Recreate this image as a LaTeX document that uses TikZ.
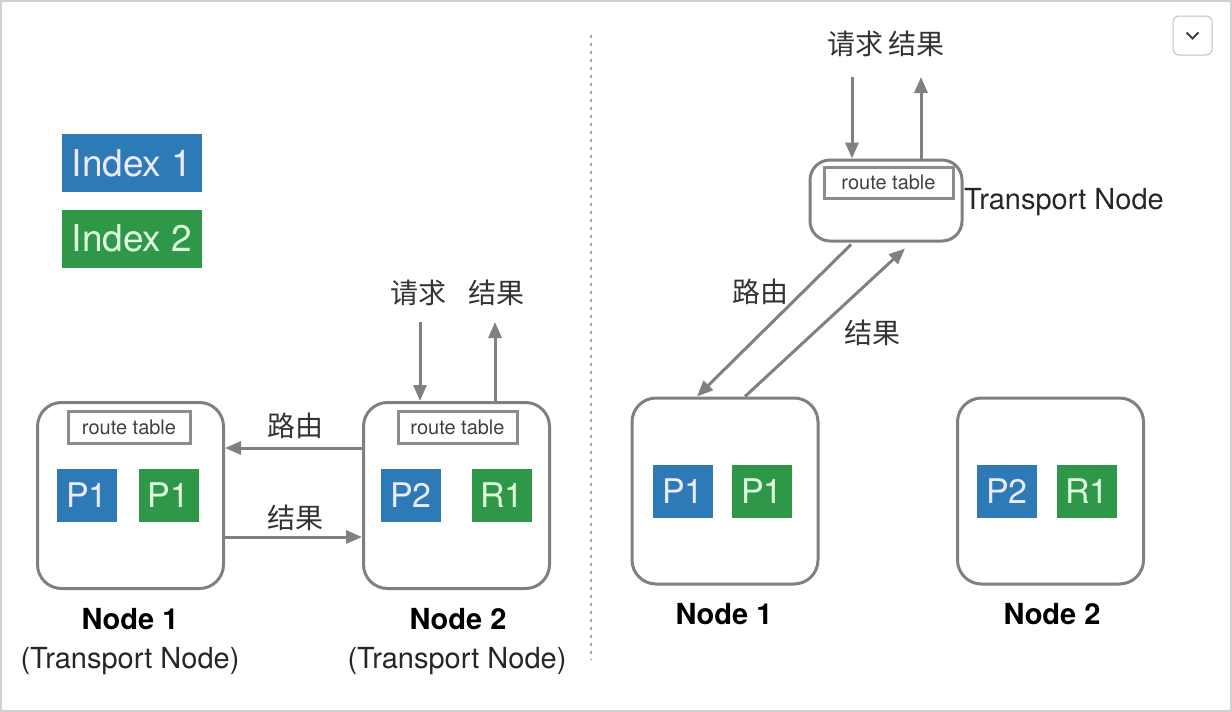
\documentclass[tikz,border=0pt]{standalone}
\usepackage{fontspec}
\setmainfont{TeX Gyre Heros}
\newfontfamily\cjk{Noto Sans CJK SC}
\usepackage{xcolor}
\usepackage{tikz}
\usetikzlibrary{arrows.meta}
\definecolor{idxblue}{RGB}{46,122,182}
\definecolor{idxgreen}{RGB}{46,152,72}
\definecolor{edgegray}{RGB}{128,128,128}
\newcommand{\fs}[1]{\fontsize{#1}{#1}\selectfont}

\begin{document}
\begin{tikzpicture}[x=1pt, y=-1pt, >={Triangle[length=16pt, width=13pt]},
  every node/.style={inner sep=0pt},
  nodebox/.style={draw=edgegray, line width=3pt, rounded corners=24pt, minimum width=186pt, minimum height=186pt},
  tnbox/.style={draw=edgegray, line width=3pt, rounded corners=20pt, minimum width=152pt, minimum height=81pt},
  rtable/.style={draw=black!45, line width=3pt, minimum width=122pt, minimum height=32pt, font=\fs{20}, text=black!75},
  idx/.style={minimum width=140pt, minimum height=58pt, font=\fs{37}},
  shard/.style={minimum width=60pt, minimum height=53pt, font=\fs{34}},
  bluebox/.style={fill=idxblue, text=blue!8},
  greenbox/.style={fill=idxgreen, text=green!12},
  flow/.style={->, draw=edgegray, line width=3pt},
  zh/.style={font=\cjk\fs{28}, text=black!80},
  title/.style={font=\bfseries\fs{29}},
  sub/.style={font=\fs{29}, text=black!85}]
  \useasboundingbox (0,0) rectangle (1232,712);
  % frame and menu button
  \draw[black!18, line width=2pt] (1,1) rectangle (1231,711);
  \node[draw=black!25, line width=1pt, rounded corners=6pt, minimum size=39pt] (menu) at (1192.5,35.5) {};
  \draw[black!75, line width=2pt] ([xshift=-6pt, yshift=3pt]menu.center) -- ([yshift=-3pt]menu.center) -- ([xshift=6pt, yshift=3pt]menu.center);
  % separator
  \draw[black!35, line width=2.5pt, dash pattern=on 2.5pt off 5.5pt] (591,35) -- (591,660);

  % legend
  \node[idx, bluebox] (idx1) at (132,163) {Index 1};
  \node[idx, greenbox] (idx2) at (132,238.5) {Index 2};

  % left: every node is a transport node
  \node[nodebox] (lnode1) at (130.5,495.5) {};
  \node[rtable] (lrt1) at (129,427) {route table};
  \node[shard, bluebox] (lp1a) at (87,495.5) {P1};
  \node[shard, greenbox] (lp1b) at (168.5,495.5) {P1};
  \node[title] (ltitle1) at (130,619) {Node 1};
  \node[sub] (lsub1) at (130,661) {(Transport Node)};

  \node[nodebox] (lnode2) at (456.5,495.5) {};
  \node[rtable, minimum width=119pt] (lrt2) at (457.5,427) {route table};
  \node[shard, bluebox] (lp2) at (411,495.5) {P2};
  \node[shard, greenbox] (lr1) at (502,495.5) {R1};
  \node[title] (ltitle2) at (458,619) {Node 2};
  \node[sub] (lsub2) at (457,661) {(Transport Node)};

  \draw[flow] ([yshift=47.5pt]lnode2.west) -- ([yshift=47.5pt]lnode1.east);
  \node[zh] (lroute) at (295,426) {路由};
  \draw[flow] ([yshift=-41.5pt]lnode1.east) -- ([yshift=-41.5pt]lnode2.west);
  \node[zh] (lres) at (295,518) {结果};

  \node[zh] (lreqlbl) at (418,293) {请求};
  \node[zh] (lreslbl) at (496,293) {结果};
  \coordinate (lin) at (420,322);
  \coordinate (lout) at (495,322);
  \draw[flow] (lin) -- (lin |- lnode2.north);
  \draw[flow] (lout |- lnode2.north) -- (lout);

  % right: dedicated transport node
  \node[tnbox] (rtn) at (886,200.5) {};
  \node[rtable, minimum width=129pt, minimum height=31pt] (rrt) at (888.5,182.5) {route table};
  \node[sub, anchor=west] (rtnlbl) at (964,202) {Transport Node};
  \node[zh] (rtop) at (886,44) {请求\,结果};
  \coordinate (rin) at (852,77);
  \coordinate (rout) at (921,77);
  \draw[flow] (rin) -- (rin |- rtn.north);
  \draw[flow] (rout |- rtn.north) -- (rout);

  \node[nodebox] (rnode1) at (725,491) {};
  \node[shard, bluebox] (rp1a) at (683,491.5) {P1};
  \node[shard, greenbox] (rp1b) at (762,491.5) {P1};
  \node[title] (rtitle1) at (724,614) {Node 1};

  \node[nodebox] (rnode2) at (1050.5,491) {};
  \node[shard, bluebox] (rp2) at (1007,491.5) {P2};
  \node[shard, greenbox] (rr1) at (1087,491.5) {R1};
  \node[title] (rtitle2) at (1052,614) {Node 2};

  \draw[flow] ([xshift=-35pt, yshift=-2pt]rtn.south) -- ([xshift=-28pt]rnode1.north);
  \node[zh] (rroute) at (760,292) {路由};
  \draw[flow] ([xshift=20pt]rnode1.north) -- ([xshift=19pt, yshift=-6pt]rtn.south);
  \node[zh] (rres) at (872,333) {结果};
\end{tikzpicture}
\end{document}
